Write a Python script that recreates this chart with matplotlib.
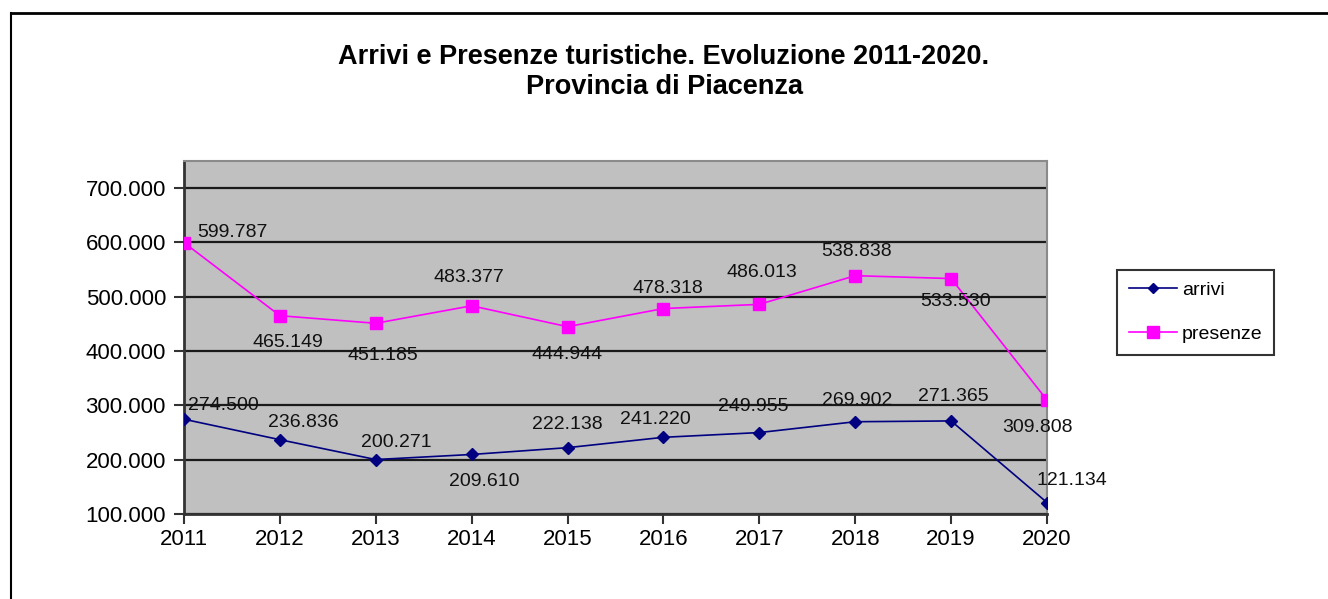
import matplotlib.pyplot as plt
from matplotlib.lines import Line2D

plt.rcParams['font.family'] = ['Liberation Sans', 'DejaVu Sans']

# === 数据 ===
anni = [2011, 2012, 2013, 2014, 2015, 2016, 2017, 2018, 2019, 2020]
arrivi = [274500, 236836, 200271, 209610, 222138, 241220, 249955, 269902, 271365, 121134]
presenze = [599787, 465149, 451185, 483377, 444944, 478318, 486013, 538838, 533530, 309808]
yticks = [100000, 200000, 300000, 400000, 500000, 600000, 700000]

# label offsets in pixels (dx, dy up)
off_arrivi = [(39, 14), (23, 17), (21, 17), (13, -27), (0, 23), (-8, 18), (-6, 26), (2, 21), (2, 24), (25, 22)]
off_presenze = [(48, 10), (8, -27), (7, -32), (-3, 28), (0, -28), (4, 20), (3, 32), (1, 24), (4, -23), (-10, -27)]


def fmt(v):
    return f"{v:,}".replace(",", ".")


fig = plt.figure(figsize=(13.28, 5.99), dpi=100)
ax = fig.add_axes([184 / 1328, 1 - 514 / 599, (1047 - 184) / 1328, (514 - 161) / 599])
ax.set_facecolor('#C0C0C0')

ax.plot(anni, arrivi, color='#000080', marker='D', markersize=6.5, linewidth=1.2, label='arrivi', zorder=3)
ax.plot(anni, presenze, color='#FF00FF', marker='s', markersize=9, linewidth=1.2, label='presenze', zorder=3)

for x, v, (dx, dy) in zip(anni, arrivi, off_arrivi):
    ax.annotate(fmt(v), (x, v), xytext=(dx * 0.72, dy * 0.72), textcoords='offset points',
                ha='center', va='center', fontsize=14, color='#111111', zorder=4)
for x, v, (dx, dy) in zip(anni, presenze, off_presenze):
    ax.annotate(fmt(v), (x, v), xytext=(dx * 0.72, dy * 0.72), textcoords='offset points',
                ha='center', va='center', fontsize=14, color='#111111', zorder=4)

ax.set_xlim(2011, 2020)
ax.set_ylim(100000, 750000)
ax.set_xticks(anni)
ax.set_xticklabels([str(a) for a in anni])
ax.set_yticks(yticks)
ax.set_yticklabels([fmt(v) for v in yticks])
ax.grid(axis='y', color='#1a1a1a', linewidth=1.6, zorder=1)
ax.set_axisbelow(True)
ax.tick_params(axis='both', labelsize=16, length=7, width=1.5, color='#333333', pad=4)
ax.tick_params(axis='y', pad=6)

for s in ['top', 'right']:
    ax.spines[s].set_color('#8a8a8a')
    ax.spines[s].set_linewidth(1.5)
for s in ['left', 'bottom']:
    ax.spines[s].set_color('#333333')
    ax.spines[s].set_linewidth(2)

fig.text(0.5, 1 - 72 / 599, "Arrivi e Presenze turistiche. Evoluzione 2011-2020.\nProvincia di Piacenza",
         ha='center', va='center', fontsize=19.5, fontweight='bold', linespacing=1.2)

leg = fig.legend(handles=[
    Line2D([], [], color='#000080', marker='D', markersize=5, linewidth=1.2),
    Line2D([], [], color='#FF00FF', marker='s', markersize=8, linewidth=1.2)],
    labels=['arrivi', 'presenze'], loc='upper left',
    bbox_to_anchor=(1117 / 1328, 1 - 270 / 599), fontsize=14, frameon=True,
    fancybox=False, edgecolor='black', handlelength=2.5, labelspacing=1.35,
    borderpad=0.6, handletextpad=0.25, borderaxespad=0)
leg.get_frame().set_linewidth(1.5)

# bordo della figura (alto e sinistra)
fig.add_artist(Line2D([11 / 1328, 11 / 1328], [0, 1 - 13 / 599], color='black', linewidth=1.5))
fig.add_artist(Line2D([11 / 1328, 1], [1 - 13 / 599, 1 - 13 / 599], color='black', linewidth=2))

fig.savefig('out.png', dpi=100)
